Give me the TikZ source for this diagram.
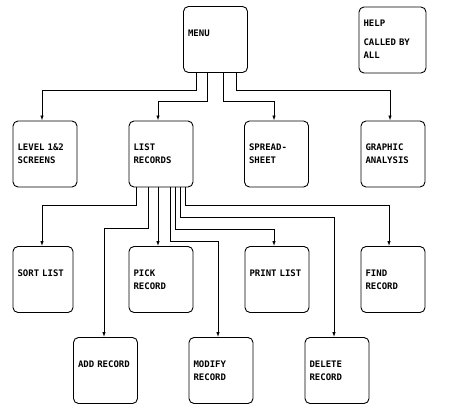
\documentclass[tikz,border=0pt]{standalone}
\usepackage{fontspec}
\setmonofont{DejaVu Sans Mono}
\usetikzlibrary{arrows.meta}

\begin{document}
\begin{tikzpicture}[x=1pt,y=1pt,
    box/.style={draw, line width=0.9pt, rounded corners=5pt, text width=55pt, align=left,
      inner xsep=4.5pt, inner ysep=0pt, text height=30pt, text depth=36pt,
      font=\ttfamily\bfseries\fontsize{9}{13}\selectfont},
    arr/.style={line width=0.9pt, -{Latex[length=5pt,width=3.5pt]}}]
    \useasboundingbox (0,0) rectangle (454,415);

    % Top row
    \node[box] (menu) at (215.5,375.5) {MENU};
    \node[box, text width=58pt, text height=19.5pt, text depth=46.5pt] (help) at (392.5,375) {HELP\\[6pt]CALLED BY\\ALL};

    % Second row
    \node[box] (level) at (45,261) {LEVEL 1\&2\\SCREENS};
    \node[box] (list) at (161,261) {LIST\\RECORDS};
    \node[box] (spread) at (276.5,261) {SPREAD-\\SHEET};
    \node[box] (graphic) at (393,261) {GRAPHIC\\ANALYSIS};

    % Third row
    \node[box, text width=51pt] (sort) at (43,135.5) {SORT LIST};
    \node[box] (pick) at (161,135.5) {PICK\\RECORD};
    \node[box] (print) at (277,135.5) {PRINT LIST};
    \node[box] (find) at (393,135.5) {FIND\\RECORD};

    % Bottom row
    \node[box] (add) at (105.5,44.5) {ADD RECORD};
    \node[box] (modify) at (221,44.5) {MODIFY\\RECORD};
    \node[box] (delete) at (337,44.5) {DELETE\\RECORD};

    % From menu
    \draw[arr] ([xshift=-19.5pt]menu.south) -- ++(0,-18) -| ([xshift=-3pt]level.north);
    \draw[arr] ([xshift=-8.5pt]menu.south) -- ++(0,-29) -| ([xshift=-3pt]list.north);
    \draw[arr] ([xshift=7.5pt]menu.south) -- ++(0,-29) -| ([xshift=-2.5pt]spread.north);
    \draw[arr] ([xshift=20.5pt]menu.south) -- ++(0,-18) -| ([xshift=-3pt]graphic.north);

    % From list records
    \draw[arr] ([xshift=-25pt]list.south) -- ++(0,-18) -| ([xshift=-1pt]sort.north);
    \draw[arr] ([xshift=-13pt]list.south) -- ++(0,-41) -| ([xshift=-1.5pt]add.north);
    \draw[arr] ([xshift=-3pt]list.south) -- ([xshift=-3pt]pick.north);
    \draw[arr] ([xshift=9pt]list.south) -- ++(0,-54) -| ([xshift=-3pt]modify.north);
    \draw[arr] ([xshift=14pt]list.south) -- ++(0,-42) -| ([xshift=-3pt]print.north);
    \draw[arr] ([xshift=19pt]list.south) -- ++(0,-30) -| ([xshift=-3pt]delete.north);
    \draw[arr] ([xshift=24pt]list.south) -- ++(0,-18) -| ([xshift=-4pt]find.north);
\end{tikzpicture}
\end{document}
